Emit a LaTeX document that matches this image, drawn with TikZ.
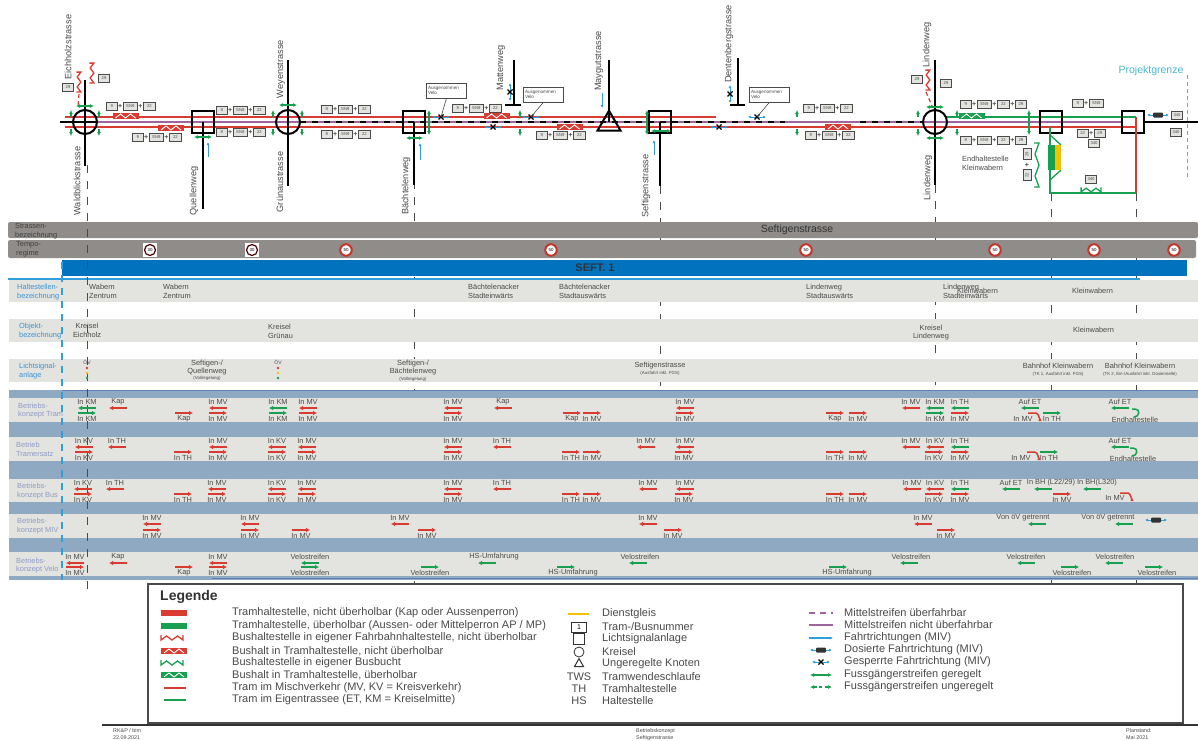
\documentclass[tikz,border=0pt]{standalone}
\usepackage{fontspec}
\setmainfont{Liberation Sans}
\usepackage{xcolor}
\usepackage{tikz}
\usetikzlibrary{arrows.meta,positioning,shapes.geometric}
\definecolor{ink}{HTML}{4A4A4A}
\definecolor{tramred}{HTML}{DA3B30}
\definecolor{tramgreen}{HTML}{16A04F}
\definecolor{midpurple}{HTML}{A2649C}
\definecolor{drive}{HTML}{2F9FDC}
\definecolor{sept}{HTML}{0072BE}
\definecolor{rowgrey}{HTML}{E3E3E0}
\definecolor{rowblue}{HTML}{8FA9C2}
\definecolor{rowedge}{HTML}{5F82B4}
\definecolor{headgrey}{HTML}{8F8C8A}
\definecolor{sidelab}{HTML}{3A93D2}
\definecolor{sidefaint}{HTML}{8F9BC6}
\definecolor{pgrenz}{HTML}{45B8CC}
\definecolor{dienst}{HTML}{F2C200}
\tikzset{
  txt/.style={font=\fontsize{7.4}{8.8}\selectfont,text=ink,inner sep=0pt},
  tiny/.style={font=\fontsize{4.4}{5}\selectfont,text=ink,inner sep=0pt},
  roadlab/.style={font=\fontsize{9.2}{10}\selectfont,text=ink,inner sep=0pt,rotate=90},
  rowlab/.style={txt,text=sidelab,align=left,anchor=west},
  faintlab/.style={txt,text=sidefaint,align=left,anchor=west},
  leglab/.style={font=\fontsize{11}{12}\selectfont,text=ink,inner sep=0pt,anchor=west},
  kreisel/.style={circle,draw=black,line width=2pt,minimum size=24pt,inner sep=0pt},
  lsabox/.style={rectangle,draw=black,line width=2pt,minimum size=22pt,inner sep=0pt},
  numbox/.style={draw=ink,fill=rowgrey,font=\fontsize{4.2}{5}\selectfont,text=ink,inner sep=0pt,minimum height=7.5pt,minimum width=11pt},
  plusign/.style={font=\fontsize{7}{7}\selectfont\bfseries,text=ink,inner sep=0.6pt},
  ausbox/.style={draw=ink,fill=white,font=\fontsize{4.6}{5.6}\selectfont,text=ink,align=left,inner sep=1.5pt,text width=37pt,minimum height=15pt},
  street/.style={draw=black,line width=2pt},
  lane/.style={-{Latex[length=4pt,width=4.5pt]},line width=1.5pt},
  fahrt/.style={draw=drive,line width=1pt,-{Latex[length=3pt,width=3pt]}},
  ped/.style={draw=tramgreen,line width=1.2pt,{Latex[length=4pt,width=4pt]}-{Latex[length=4pt,width=4pt]}},
  pedtip/.style={draw=tramgreen,line width=1.2pt,-{Latex[length=4pt,width=4pt]}},
  kante/.style={draw=ink,line width=1pt,dash pattern=on 8pt off 8pt},
  busbay/.pic={\draw[line width=1.3pt] (-11,-3)--(-11,2)--(-5.5,-2)--(0,2)--(5.5,-2)--(11,2)--(11,-3);},
  bushalt/.pic={\fill (-13,-3) rectangle (13,3);
    \draw[white,line width=0.9pt] (-10,2)--(-5,-2)--(0,2)--(5,-2)--(10,2);},
  gesperrt/.pic={\draw[fahrt] (0,0)--(9,0); \draw[fahrt] (0,0)--(-9,0);
    \draw[black,line width=1.3pt] (-2.5,-2.5)--(2.5,2.5) (-2.5,2.5)--(2.5,-2.5);},
  dosiert/.pic={\draw[fahrt] (0,0)--(11,0); \draw[fahrt] (0,0)--(-11,0);
    \fill[black!80,rounded corners=1pt] (-5,-2.5) rectangle (5,2.5);},
}
% number boxes beside the track
\newcommand{\nineset}[3]{
  \node[numbox,anchor=west] (#1a) at (#2,#3) {9};
  \node[plusign,right=0pt of #1a] (#1b) {+};
  \node[numbox,right=0pt of #1b,minimum width=14pt] (#1c) {SN9};
  \node[plusign,right=0pt of #1c] (#1d) {+};
  \node[numbox,right=0pt of #1d,minimum width=12pt] (#1e) {22};
}
\newcommand{\lanel}[5][0]{
  \draw[lane,draw=#4] (#2+9,#3)--(#2-9,#3);
  \node[txt] at (#2+#1,#3-6.5) {#5};
}
\newcommand{\laner}[5][0]{
  \draw[lane,draw=#4] (#2-9,#3)--(#2+9,#3);
  \node[txt] at (#2+#1,#3+6) {#5};
}
\begin{document}
\begin{tikzpicture}[x=1pt,y=-1pt]
  \useasboundingbox (0,0) rectangle (1198,740);
  % stationing behind the rows
  \foreach \px/\ya in {414/165,660/186,935/185,1051/193,1136/193}
    \draw[kante] (\px,\ya)--(\px,590);
  % rows
  \fill[headgrey,rounded corners=2pt] (8,222) rectangle (1198,238);
  \fill[headgrey,rounded corners=2pt] (8,240) rectangle (1196,258);
  \fill[sept] (62,260) rectangle (1187,276);
  \draw[drive,line width=1.5pt] (8,279)--(1140,279);
  \foreach \ya/\yb in {280/302,319/342,359/382}
    \fill[rowgrey] (9,\ya) rectangle (1198,\yb);
  \fill[rowblue] (9,390) rectangle (1198,580);
  \foreach \ya/\yb in {398/422,437/461,479/502,514/538,552/576}
    \fill[rowgrey] (9,\ya) rectangle (1198,\yb);
  \draw[rowedge,line width=1pt] (62,390.5)--(1198,390.5);
  \draw[rowedge,line width=1pt] (212,578)--(1198,578);
  \draw[kante] (87,165)--(87,590);
  \draw[drive,line width=2pt,dash pattern=on 7pt off 6pt] (62,262)--(62,580);
  % track
  \draw[tramred,line width=1.5pt] (65,117)--(716,117);
  \draw[tramred,line width=1.5pt] (65,127)--(1136,127);
  \draw[midpurple,line width=1.6pt] (65,122)--(1122,122);
  \draw[tramgreen,line width=1.5pt] (946,117)--(1136,117);
  \draw[black,line width=1.4pt] (60,122)--(97,122);
  \draw[black,line width=1.4pt] (1144,122)--(1198,122);
  \draw[black,line width=1.4pt,dash pattern=on 6pt off 6pt] (300,122)--(785,122);
  \draw[black,line width=1.4pt,dash pattern=on 6pt off 6pt] (860,122)--(923,122);
  % side streets
  \draw[street] (85,80)--(85,166);
  \draw[street] (203,122)--(203,209);
  \draw[street] (288,60)--(288,186);
  \draw[street] (414,122)--(414,185);
  \draw[street] (514,60)--(514,105) (505,105)--(521,105);
  \draw[street] (609,60)--(609,122);
  \draw[street] (660,122)--(660,186);
  \draw[street] (738,58)--(738,105) (730,105)--(745,105);
  \draw[street] (935,60)--(935,185);
  % junctions
  \node[kreisel] (krEich) at (85,122) {};
  \node[kreisel] (krGrue) at (288,122) {};
  \node[kreisel] (krLind) at (935,122) {};
  \node[lsabox] (lsaQuel) at (203,122) {};
  \node[lsabox] (lsaBaech) at (414,122) {};
  \node[lsabox] (lsaSeft) at (660,122) {};
  \node[lsabox] (lsaBhf) at (1051,122) {};
  \node[lsabox] (lsaKlein) at (1133,122) {};
  \node[draw=black,line width=2pt,isosceles triangle,isosceles triangle apex angle=60,shape border rotate=90,minimum height=20pt,inner sep=0pt] (knMay) at (609,124) {};
  % street names
  \node[roadlab] (nEich) at (68,47) {Eichholzstrasse};
  \node[roadlab] (nWald) at (77,181) {Waldblickstrasse};
  \node[roadlab] (nQuel) at (194,191) {Quellenweg};
  \node[roadlab] (nWey) at (281,69) {Weyenstrasse};
  \node[roadlab] (nGrue) at (280,182) {Grünaustrasse};
  \node[roadlab] (nBaech) at (406,186) {Bächtelenweg};
  \node[roadlab] (nMatt) at (501,68) {Mattenweg};
  \node[roadlab] (nMay) at (599,61) {Maygutstrasse};
  \node[roadlab] (nSeft) at (646,186) {Seftigenstrasse};
  \node[roadlab] (nDent) at (729,44) {Dentenbergstrasse};
  \node[roadlab] (nLindA) at (927,45) {Lindenweg};
  \node[roadlab] (nLindB) at (928,178) {Lindenweg};
  % bus stops
  \pic[tramred] at (125.5,116) {bushalt};
  \pic[tramred] at (171,128) {bushalt};
  \pic[tramred] at (496.5,116) {bushalt};
  \pic[tramred] at (569.5,127) {bushalt};
  \pic[tramred] at (838,127) {bushalt};
  \pic[tramgreen] at (971.5,116) {bushalt};
  \pic[tramred,rotate=90,scale=0.9] at (79,82) {busbay};
  \pic[tramred,rotate=90,scale=0.9] at (92,73) {busbay};
  \pic[tramred,rotate=90,scale=0.9] at (928,80) {busbay};
  \pic[tramgreen,rotate=90,xscale=2] at (1037,165) {busbay};
  \pic[tramgreen,scale=0.9] at (1091,190) {busbay};
  \draw[tramred,line width=1.2pt,dash pattern=on 4pt off 3pt] (79,94)--(78,106);
  \draw[tramred,line width=1.2pt,dash pattern=on 4pt off 3pt] (926,92)--(932,106);
  % terminal at Kleinwabern
  \draw[tramgreen,line width=1.5pt] (1050,127)--(1050,193)--(1136,193);
  \draw[tramred,line width=1.5pt] (1136,117)--(1136,193);
  \draw[tramgreen,line width=1.3pt] (1050,135)--(1061,145) (1061,170)--(1050,180);
  \fill[tramgreen] (1048,145) rectangle (1055,170);
  \fill[dienst] (1055,145) rectangle (1061,170);
  \node[txt,align=left,anchor=west] (nEnd) at (962,163) {Endhaltestelle\\Kleinwabern};
  \node[font=\fontsize{10.5}{12}\selectfont,text=pgrenz,inner sep=0pt] (nGrenz) at (1151,71) {Projektgrenze};
  \draw[pgrenz,line width=1pt,dash pattern=on 4pt off 3pt] (1187,75)--(1187,180);
  % number boxes
  \nineset{g1}{106}{106}
  \nineset{g2}{132}{137}
  \nineset{g3}{216}{110}
  \nineset{g4}{216}{132}
  \nineset{g5}{321}{109}
  \nineset{g6}{321}{134}
  \nineset{g7}{452}{108}
  \nineset{g8}{536}{135}
  \nineset{g9}{803}{108}
  \nineset{g10}{805}{135}
  \nineset{g11}{960}{104}
  \node[plusign,right=0pt of g11e] (g11f) {+};
  \node[numbox,right=0pt of g11f] (g11g) {29};
  \nineset{g12}{960}{140}
  \node[plusign,right=0pt of g12e] (g12f) {+};
  \node[numbox,right=0pt of g12f] (g12g) {29};
  \node[numbox,anchor=west] (g13a) at (1072,103) {9};
  \node[plusign,right=0pt of g13a] (g13b) {+};
  \node[numbox,right=0pt of g13b,minimum width=14pt] (g13c) {SN9};
  \node[numbox,anchor=west] (g14a) at (1077,133) {22};
  \node[plusign,right=0pt of g14a] (g14b) {+};
  \node[numbox,right=0pt of g14b] (g14c) {29};
  \node[numbox] (g14d) at (1094,143) {340};
  \foreach \px/\py/\nam/\txt in {68/87/s1/29,104/78/s2/29,917/79/s3/29,946/83/s4/29,1091/179/s5/340,1177/115/s6/340,1176/132/s7/340}
    \node[numbox] (\nam) at (\px,\py) {\txt};
  \node[numbox,rotate=90] (r1) at (1027,154) {29};
  \node[plusign] (r2) at (1027,165) {+};
  \node[numbox,rotate=90] (r3) at (1027,175) {22};
  % closed directions with the cycle exception
  \coordinate (sp1) at (441,117);
  \coordinate (sp2) at (531,117);
  \coordinate (sp3) at (757,117);
  \foreach \spot in {sp1,sp2,sp3}
    \pic at (\spot) {gesperrt};
  \foreach \px/\py in {493/127,719/127}
    \pic at (\px,\py) {gesperrt};
  \pic[rotate=90] at (510,92) {gesperrt};
  \pic[rotate=90] at (730,94) {gesperrt};
  \node[ausbox] (aus1) at (446.5,90.5) {Ausgenommen\\Velo};
  \node[ausbox] (aus2) at (543.5,94.5) {Ausgenommen\\Velo};
  \node[ausbox] (aus3) at (769.5,94.5) {Ausgenommen\\Velo};
  \draw[ink,line width=0.6pt] (aus1.south) -- (sp1);
  \draw[ink,line width=0.6pt] (aus2.south) -- (sp2);
  \draw[ink,line width=0.6pt] (aus3.south) -- (sp3);
  % directions of the side streets
  \draw[fahrt] (208,157)--(208,142);
  \draw[fahrt] (420,160)--(420,143);
  \draw[fahrt] (602,93)--(602,108);
  \draw[fahrt] (654,155)--(654,140);
  \pic at (1158,115) {dosiert};
  % crossings
  \foreach \ax/\ay/\bx/\by in {76/106/94/106,194/137/212/137,279/105/297/105,406/138/423/138,429/110/429/135,647/110/647/135,651/131/671/131,926/107/944/107,926/138/944/138,1029/110/1029/135}
    \draw[ped] (\ax,\ay)--(\bx,\by);
  \foreach \px in {71,99,273,302,520,797,918,957}{
    \draw[pedtip] (\px,117)--(\px,110);
    \draw[pedtip] (\px,129)--(\px,136);
  }
  % head rows
  \node[txt,anchor=west,align=left,text=black!75] (lStr) at (15,231) {Strassen-\\bezeichnung};
  \node[txt,anchor=west,align=left,text=black!75] (lTem) at (16,249.5) {Tempo-\\regime};
  \node[font=\fontsize{10.5}{12}\selectfont,text=black!80,inner sep=0pt] (lSeft) at (797,230) {Seftigenstrasse};
  \node[font=\fontsize{11}{12}\selectfont\bfseries,text=black!80,inner sep=0pt] (lSept) at (595,268) {SEFT. 1};
  \foreach \px in {150,252}{
    \fill[white] (\px-7,243) rectangle (\px+7,257);
    \node[circle,draw=black!70!red,line width=1.2pt,fill=white,minimum size=11pt,inner sep=0pt,font=\fontsize{4.4}{5}\selectfont] at (\px,250) {30};
  }
  \foreach \px in {346,551,806,995,1094,1174}
    \node[circle,draw=tramred!90!black,line width=2pt,fill=white,minimum size=11.5pt,inner sep=0pt,font=\fontsize{4.4}{5}\selectfont] at (\px,250) {50};
  % left labels
  \node[rowlab] (lHal) at (17,292) {Haltestellen-\\bezeichnung};
  \node[rowlab] (lObj) at (19,331) {Objekt-\\bezeichnung};
  \node[rowlab] (lLsa) at (19,371) {Lichtsignal-\\anlage};
  \node[faintlab] (lTram) at (18,410.5) {Betriebs-\\konzept Tram};
  \node[faintlab] (lErs) at (16,449) {Betrieb\\Tramersatz};
  \node[faintlab] (lBus) at (17,491) {Betriebs-\\konzept Bus};
  \node[faintlab] (lMiv) at (17,526) {Betriebs-\\konzept MIV};
  \node[faintlab] (lVel) at (16,565.5) {Betriebs-\\konzept Velo};
  % stop names
  \foreach \px/\py/\txt in {89/291/Wabern\\Zentrum,163/291/Wabern\\Zentrum,468/291/Bächtelenacker\\Stadteinwärts,559/291/Bächtelenacker\\Stadtauswärts,806/291/Lindenweg\\Stadtauswärts,943/291/Lindenweg\\Stadteinwärts,957/291/Kleinwabern,1072/291/Kleinwabern,268/331/Kreisel\\Grünau}
    \node[txt,anchor=west,align=left] at (\px,\py) {\txt};
  \node[txt,align=center] (oEich) at (87,330.5) {Kreisel\\Eichholz};
  \node[txt,align=center] (oLind) at (931,332.5) {Kreisel\\Lindenweg};
  \node[txt,anchor=west] (oKlein) at (1073,330) {Kleinwabern};
  % signals
  \foreach \px in {87,278}{
    \node[tiny,font=\fontsize{5}{5}\selectfont] at (\px,362) {ÖV};
    \fill[tramred] (\px,368) circle (1.4);
    \fill[dienst] (\px,373) circle (1.4);
    \fill[tramgreen] (\px,378) circle (1.4);
  }
  \node[txt,align=center] (sQuel) at (207,367.5) {Seftigen-/\\Quellenweg};
  \node[tiny] (sQuelb) at (207,378.5) {(Vollregelung)};
  \node[txt,align=center] (sBaech) at (413,367.5) {Seftigen-/\\Bächtelenweg};
  \node[tiny] (sBaechb) at (413,379) {(Vollregelung)};
  \node[txt] (sSeft) at (660,366) {Seftigenstrasse};
  \node[tiny] (sSeftb) at (660,373) {(Ausfahrt inkl. FGS)};
  \node[txt] (sBhfa) at (1058,366) {Bahnhof Kleinwabern};
  \node[tiny] (sBhfab) at (1058,374) {(TK 1, Ausfahrt inkl. FGS)};
  \node[txt] (sBhfb) at (1140,366) {Bahnhof Kleinwabern};
  \node[tiny] (sBhfbb) at (1140,374) {(TK 2, Ein-/Ausfahrt inkl. Dosierstelle)};
  % Betriebskonzept Tram
  \foreach \px/\col/\txt in {87/tramgreen/In KM,118/tramred/Kap,218/tramred/In MV,278/tramgreen/In KM,308/tramred/In MV,453/tramred/In MV,503/tramred/Kap,685/tramred/In MV,911/tramred/In MV,935/tramgreen/In KM,960/tramgreen/In TH,1030/tramgreen/Auf ET,1120/tramgreen/Auf ET}
    \lanel{\px}{408}{\col}{\txt};
  \foreach \px/\col/\txt in {87/tramgreen/In KM,184/tramred/Kap,218/tramred/In MV,278/tramgreen/In KM,308/tramred/In MV,453/tramred/In MV,572/tramred/Kap,592/tramred/In MV,685/tramred/In MV,835/tramred/Kap,858/tramred/In MV,935/tramgreen/In KM,960/tramred/In MV,1052/tramgreen/In TH}
    \laner{\px}{413}{\col}{\txt};
  % Betriebskonzept Tramersatz
  \foreach \px/\col/\txt in {84/tramred/In KV,117/tramred/In TH,218/tramred/In MV,277/tramred/In KV,307/tramred/In MV,453/tramred/In MV,502/tramred/In TH,646/tramred/In MV,685/tramred/In MV,911/tramred/In MV,935/tramred/In KV,960/tramgreen/In TH,1120/tramgreen/Auf ET}
    \lanel{\px}{447}{\col}{\txt};
  \foreach \px/\col/\txt in {84/tramred/In KV,183/tramred/In TH,218/tramred/In MV,277/tramred/In KV,307/tramred/In MV,453/tramred/In MV,571/tramred/In TH,592/tramred/In MV,684/tramred/In MV,835/tramred/In TH,858/tramred/In MV,934/tramred/In KV,960/tramred/In MV,1049/tramgreen/In TH}
    \laner{\px}{452}{\col}{\txt};
  % Betriebskonzept Bus
  \foreach \px/\col/\txt in {83/tramred/In KV,115/tramred/In TH,217/tramred/In MV,277/tramred/In KV,307/tramred/In MV,453/tramred/In MV,502/tramred/In TH,648/tramred/In MV,685/tramred/In MV,912/tramred/In MV,935/tramred/In KV,960/tramgreen/In TH,1011/tramgreen/Auf ET}
    \lanel{\px}{489}{\col}{\txt};
  \lanel[8]{1043}{489}{tramgreen}{In BH (L22/29)};
  \lanel[5]{1092}{489}{tramgreen}{In BH(L320)};
  \foreach \px/\col/\txt in {83/tramred/In KV,183/tramred/In TH,217/tramred/In MV,277/tramred/In KV,307/tramred/In MV,453/tramred/In MV,571/tramred/In TH,592/tramred/In MV,684/tramred/In MV,835/tramred/In TH,858/tramred/In MV,934/tramred/In KV,960/tramred/In MV,1062/tramred/In MV}
    \laner{\px}{494}{\col}{\txt};
  % Betriebskonzept MIV
  \foreach \px/\txt in {152/In MV,250/In MV,400/In MV,648/In MV,923/In MV}
    \lanel{\px}{524}{tramred}{\txt};
  \foreach \px/\txt in {152/In MV,250/In MV,301/In MV,427/In MV,673/In MV,946/In MV}
    \laner{\px}{530}{tramred}{\txt};
  \lanel[-14]{1037}{524}{tramgreen}{Von öV getrennt};
  \lanel[-16]{1124}{524}{tramgreen}{Von öV getrennt};
  \pic at (1156,520) {dosiert};
  % Betriebskonzept Velo
  \foreach \px/\shft/\col/\txt in {75/0/tramred/In MV,118/0/tramred/Kap,218/0/tramred/In MV,310/0/tramgreen/Velostreifen,487/7/tramgreen/HS-Umfahrung,638/2/tramgreen/Velostreifen,909/2/tramgreen/Velostreifen,1026/0/tramgreen/Velostreifen,1114/1/tramgreen/Velostreifen}
    \lanel[\shft]{\px}{563}{\col}{\txt};
  \foreach \px/\shft/\col/\txt in {75/0/tramred/In MV,184/0/tramred/Kap,218/0/tramred/In MV,310/0/tramgreen/Velostreifen,430/0/tramgreen/Velostreifen,566/7/tramgreen/HS-Umfahrung,838/9/tramgreen/HS-Umfahrung,1070/2/tramgreen/Velostreifen,1154/3/tramgreen/Velostreifen}
    \laner[\shft]{\px}{567}{\col}{\txt};
  % turning moves at the terminal
  \foreach \ax/\ay in {1028/413,1027/452,1120/493}
    \draw[lane,draw=tramred,-{Latex[length=3pt,width=3.5pt]}] (\ax,\ay)--(\ax+8,\ay) to[out=0,in=-90] (\ax+12,\ay+5);
  \node[txt] (mA) at (1023,418.5) {In MV};
  \node[txt] (mB) at (1021,457.5) {In MV};
  \node[txt] (mC) at (1115,498) {In MV};
  \foreach \ay/\px in {409/1132,448/1130}
    \draw[tramgreen,line width=1.5pt] (\px,\ay)--(\px+3,\ay) to[out=0,in=0,looseness=1.8] (\px+2,\ay+8);
  \node[txt] (eA) at (1135,419.5) {Endhaltestelle};
  \node[txt] (eB) at (1133,458.5) {Endhaltestelle};
  % legend
  \draw[ink,line width=1.2pt,fill=white] (148,584) rectangle (1183,723);
  \draw[black!80,line width=1.6pt] (102,725)--(1198,725);
  \node[font=\fontsize{14}{15}\selectfont\bfseries,text=black!80,inner sep=0pt,anchor=west] (legTitel) at (160,597) {Legende};
  \foreach \py/\txt in {613/{Tramhaltestelle, nicht überholbar (Kap oder Aussenperron)},626/{Tramhaltestelle, überholbar (Aussen- oder Mittelperron AP / MP)},638/{Bushaltestelle in eigener Fahrbahnhaltestelle, nicht überholbar},651/{Bushalt in Tramhaltestelle, nicht überholbar},663/{Bushaltestelle in eigener Busbucht},675/{Bushalt in Tramhaltestelle, überholbar},688/{Tram im Mischverkehr (MV, KV = Kreisverkehr)},700/{Tram im Eigentrassee (ET, KM = Kreiselmitte)}}
    \node[leglab] at (232,\py) {\txt};
  \foreach \py/\txt in {614/Dienstgleis,627/{Tram-/Busnummer},639/Lichtsignalanlage,652/Kreisel,664/Ungeregelte Knoten,677/Tramwendeschlaufe,689/Tramhaltestelle,701/Haltestelle}
    \node[leglab] at (602,\py) {\txt};
  \foreach \py/\txt in {613/Mittelstreifen überfahrbar,625/Mittelstreifen nicht überfahrbar,638/Fahrtrichtungen (MIV),650/Dosierte Fahrtrichtung (MIV),662/Gesperrte Fahrtrichtung (MIV),675/Fussgängerstreifen geregelt,687/Fussgängerstreifen ungeregelt}
    \node[leglab] at (844,\py) {\txt};
  % legend symbols
  \fill[tramred] (161,610) rectangle (187,616);
  \fill[tramgreen] (161,623) rectangle (187,629);
  \pic[tramred] at (172,638) {busbay};
  \pic[tramred] at (174,651) {bushalt};
  \pic[tramgreen] at (172,663) {busbay};
  \pic[tramgreen] at (174,675) {bushalt};
  \draw[tramred,line width=1.2pt] (164,688)--(186,688);
  \draw[tramgreen,line width=1.2pt] (164,700)--(186,700);
  \draw[dienst,line width=1.2pt] (568,614)--(589,614);
  \node[draw=black!80,line width=0.8pt,minimum width=15pt,minimum height=10pt,inner sep=0pt,font=\fontsize{7}{8}\selectfont] (leg1) at (579,627) {1};
  \node[draw=black!80,line width=0.8pt,minimum size=11pt,inner sep=0pt] (leg2) at (579,639) {};
  \node[circle,draw=black!80,line width=0.8pt,minimum size=10pt,inner sep=0pt] (leg3) at (579,652) {};
  \node[draw=black!80,line width=1pt,isosceles triangle,isosceles triangle apex angle=60,shape border rotate=90,minimum height=8pt,inner sep=0pt] (leg4) at (579,664) {};
  \foreach \py/\txt in {677/TWS,689/TH,701/HS}
    \node[font=\fontsize{11}{12}\selectfont,text=ink,inner sep=0pt] at (579,\py) {\txt};
  \draw[midpurple,line width=1.1pt,dash pattern=on 6pt off 5pt] (809,613)--(833,613);
  \draw[midpurple,line width=1.1pt] (809,625)--(833,625);
  \draw[fahrt,line width=1.2pt] (809,638)--(833,638);
  \pic at (821,650) {dosiert};
  \pic at (821,662) {gesperrt};
  \draw[ped] (810,675)--(832,675);
  \draw[ped,dash pattern=on 3pt off 2.5pt] (810,687)--(832,687);
  % footer
  \node[tiny,font=\fontsize{5.4}{7}\selectfont,align=left,anchor=north west] (fuA) at (113,728) {RK\&P / bim\\22.09.2021};
  \node[tiny,font=\fontsize{5.4}{7}\selectfont,align=left,anchor=north west] (fuB) at (636,728) {Betriebskonzept\\Seftigenstrasse};
  \node[tiny,font=\fontsize{5.4}{7}\selectfont,align=left,anchor=north west] (fuC) at (1126,728) {Planstand:\\Mai 2021};
\end{tikzpicture}
\end{document}
